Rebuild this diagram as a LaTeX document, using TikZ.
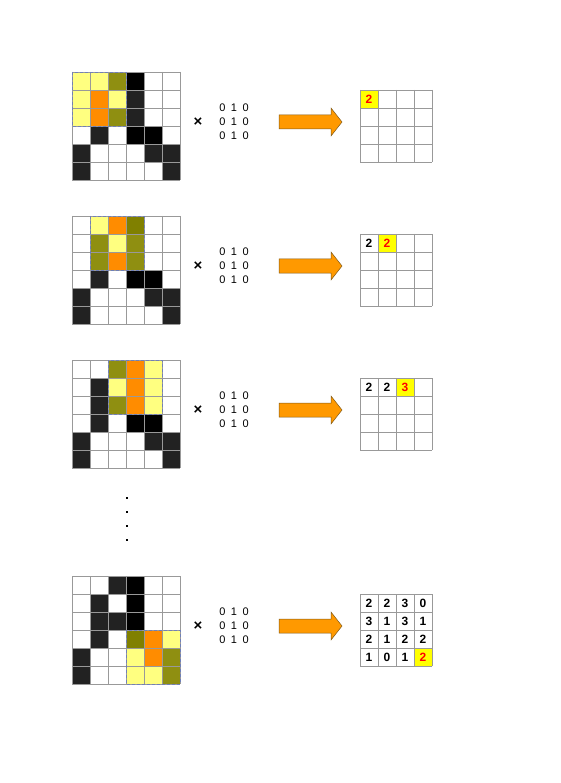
\documentclass[tikz,border=0pt]{standalone}
\usepackage{fontspec}
\setmainfont{Liberation Sans}
\definecolor{cw}{HTML}{FFFFFF}
\definecolor{cd}{HTML}{222222}
\definecolor{ck}{HTML}{000000}
\definecolor{cy}{HTML}{FFFF80}
\definecolor{co}{HTML}{8F8F11}
\definecolor{cp}{HTML}{808000}
\definecolor{cr}{HTML}{FF8C00}
\definecolor{gridgray}{HTML}{999999}
\definecolor{dashblue}{HTML}{7080B8}
\definecolor{arrorange}{HTML}{FF9900}
\definecolor{arrborder}{HTML}{7F5A1A}
\definecolor{hlyellow}{HTML}{FFFF00}
\newcommand\imgrid[3]{%
  \foreach \c [count=\n from 0] in {#3} {
    \pgfmathtruncatemacro\rr{div(\n,6)}
    \pgfmathtruncatemacro\qq{mod(\n,6)}
    \fill[fill=c\c] (#1+\qq*18,#2+\rr*18) rectangle ++(18,18);
  }
  \foreach \k in {0,...,6} {
    \draw[gridline] (#1+\k*18,#2) -- (#1+\k*18,#2+108);
    \draw[gridline] (#1,#2+\k*18) -- (#1+108,#2+\k*18);
  }
}
\newcommand\outgrid[2]{%
  \foreach \k in {0,...,4} {
    \draw[gridline] (#1+\k*18,#2) -- (#1+\k*18,#2+72);
    \draw[gridline] (#1,#2+\k*18) -- (#1+72,#2+\k*18);
  }
}
\newcommand\kernelrow[2]{%
  \node[times] (x#1) at (198,#2) {\textbf{×}};
  \node[kern] (k#1) at (234,#2) {0\hspace{5.5pt}1\hspace{5.5pt}0\\0\hspace{5.5pt}1\hspace{5.5pt}0\\0\hspace{5.5pt}1\hspace{5.5pt}0};
  \draw[bigarrow] (279,#2-7) -- (331,#2-7) -- (331,#2-14) -- (342,#2) -- (331,#2+14) -- (331,#2+7) -- (279,#2+7) -- cycle;
}
\tikzset{
  gridline/.style={draw=gridgray, line width=0.6pt},
  window/.style={draw=dashblue, line width=0.9pt, dash pattern=on 3pt off 2pt},
  times/.style={font=\fontsize{15}{15}\selectfont, inner sep=0pt},
  kern/.style={font=\fontsize{11}{14.2}\selectfont, align=left, inner sep=0pt},
  bigarrow/.style={fill=arrorange, draw=arrborder, line width=0.5pt},
  num/.style={font=\fontsize{12}{12}\selectfont\bfseries, inner sep=0pt},
  hlnum/.style={num, text=red},
  hlcell/.style={fill=hlyellow},
  dot/.style={fill=black, minimum size=2pt, inner sep=0pt, draw=none, rectangle}
}
\begin{document}
\begin{tikzpicture}[x=1pt,y=-1pt]
\useasboundingbox (0,0) rectangle (560,783);
% ---------- row 1
\imgrid{72}{72}{y,y,o,k,w,w, y,r,y,d,w,w, y,r,o,d,w,w, w,d,w,k,k,w, d,w,w,w,d,d, d,w,w,w,w,d}
\draw[window] (72,72) rectangle (126,126);
\kernelrow{1}{122}
\fill[hlcell] (360,90) rectangle (378,108);
\outgrid{360}{90}
\node[hlnum] (o1) at (369,99) {2};
% ---------- row 2
\imgrid{72}{216}{w,y,r,p,w,w, w,o,y,o,w,w, w,o,r,o,w,w, w,d,w,k,k,w, d,w,w,w,d,d, d,w,w,w,w,d}
\draw[window] (90,216) rectangle (144,270);
\kernelrow{2}{266}
\fill[hlcell] (378,234) rectangle (396,252);
\outgrid{360}{234}
\node[num] (o2a) at (369,243) {2};
\node[hlnum] (o2b) at (387,243) {2};
% ---------- row 3
\imgrid{72}{360}{w,w,o,r,y,w, w,d,y,r,y,w, w,d,o,r,y,w, w,d,w,k,k,w, d,w,w,w,d,d, d,w,w,w,w,d}
\draw[window] (108,360) rectangle (162,414);
\kernelrow{3}{410}
\fill[hlcell] (396,378) rectangle (414,396);
\outgrid{360}{378}
\node[num] (o3a) at (369,387) {2};
\node[num] (o3b) at (387,387) {2};
\node[hlnum] (o3c) at (405,387) {3};
% ---------- dots
\node[dot] (d1) at (127,498) {};
\node[dot] (d2) at (127,512) {};
\node[dot] (d3) at (127,526) {};
\node[dot] (d4) at (127,540) {};
% ---------- last row
\imgrid{72}{576}{w,w,d,k,w,w, w,d,w,k,w,w, w,d,d,k,w,w, w,d,w,p,r,y, d,w,w,y,r,o, d,w,w,y,y,o}
\draw[window] (126,630) rectangle (180,684);
\kernelrow{4}{626}
\fill[hlcell] (414,648) rectangle (432,666);
\outgrid{360}{594}
\foreach \v [count=\n from 0] in {2,2,3,0, 3,1,3,1, 2,1,2,2, 1,0,1} {
  \pgfmathtruncatemacro\rr{div(\n,4)}
  \pgfmathtruncatemacro\qq{mod(\n,4)}
  \node[num] (f\n) at (369+\qq*18,603+\rr*18) {\v};
}
\node[hlnum] (f15) at (423,657) {2};
\end{tikzpicture}
\end{document}
